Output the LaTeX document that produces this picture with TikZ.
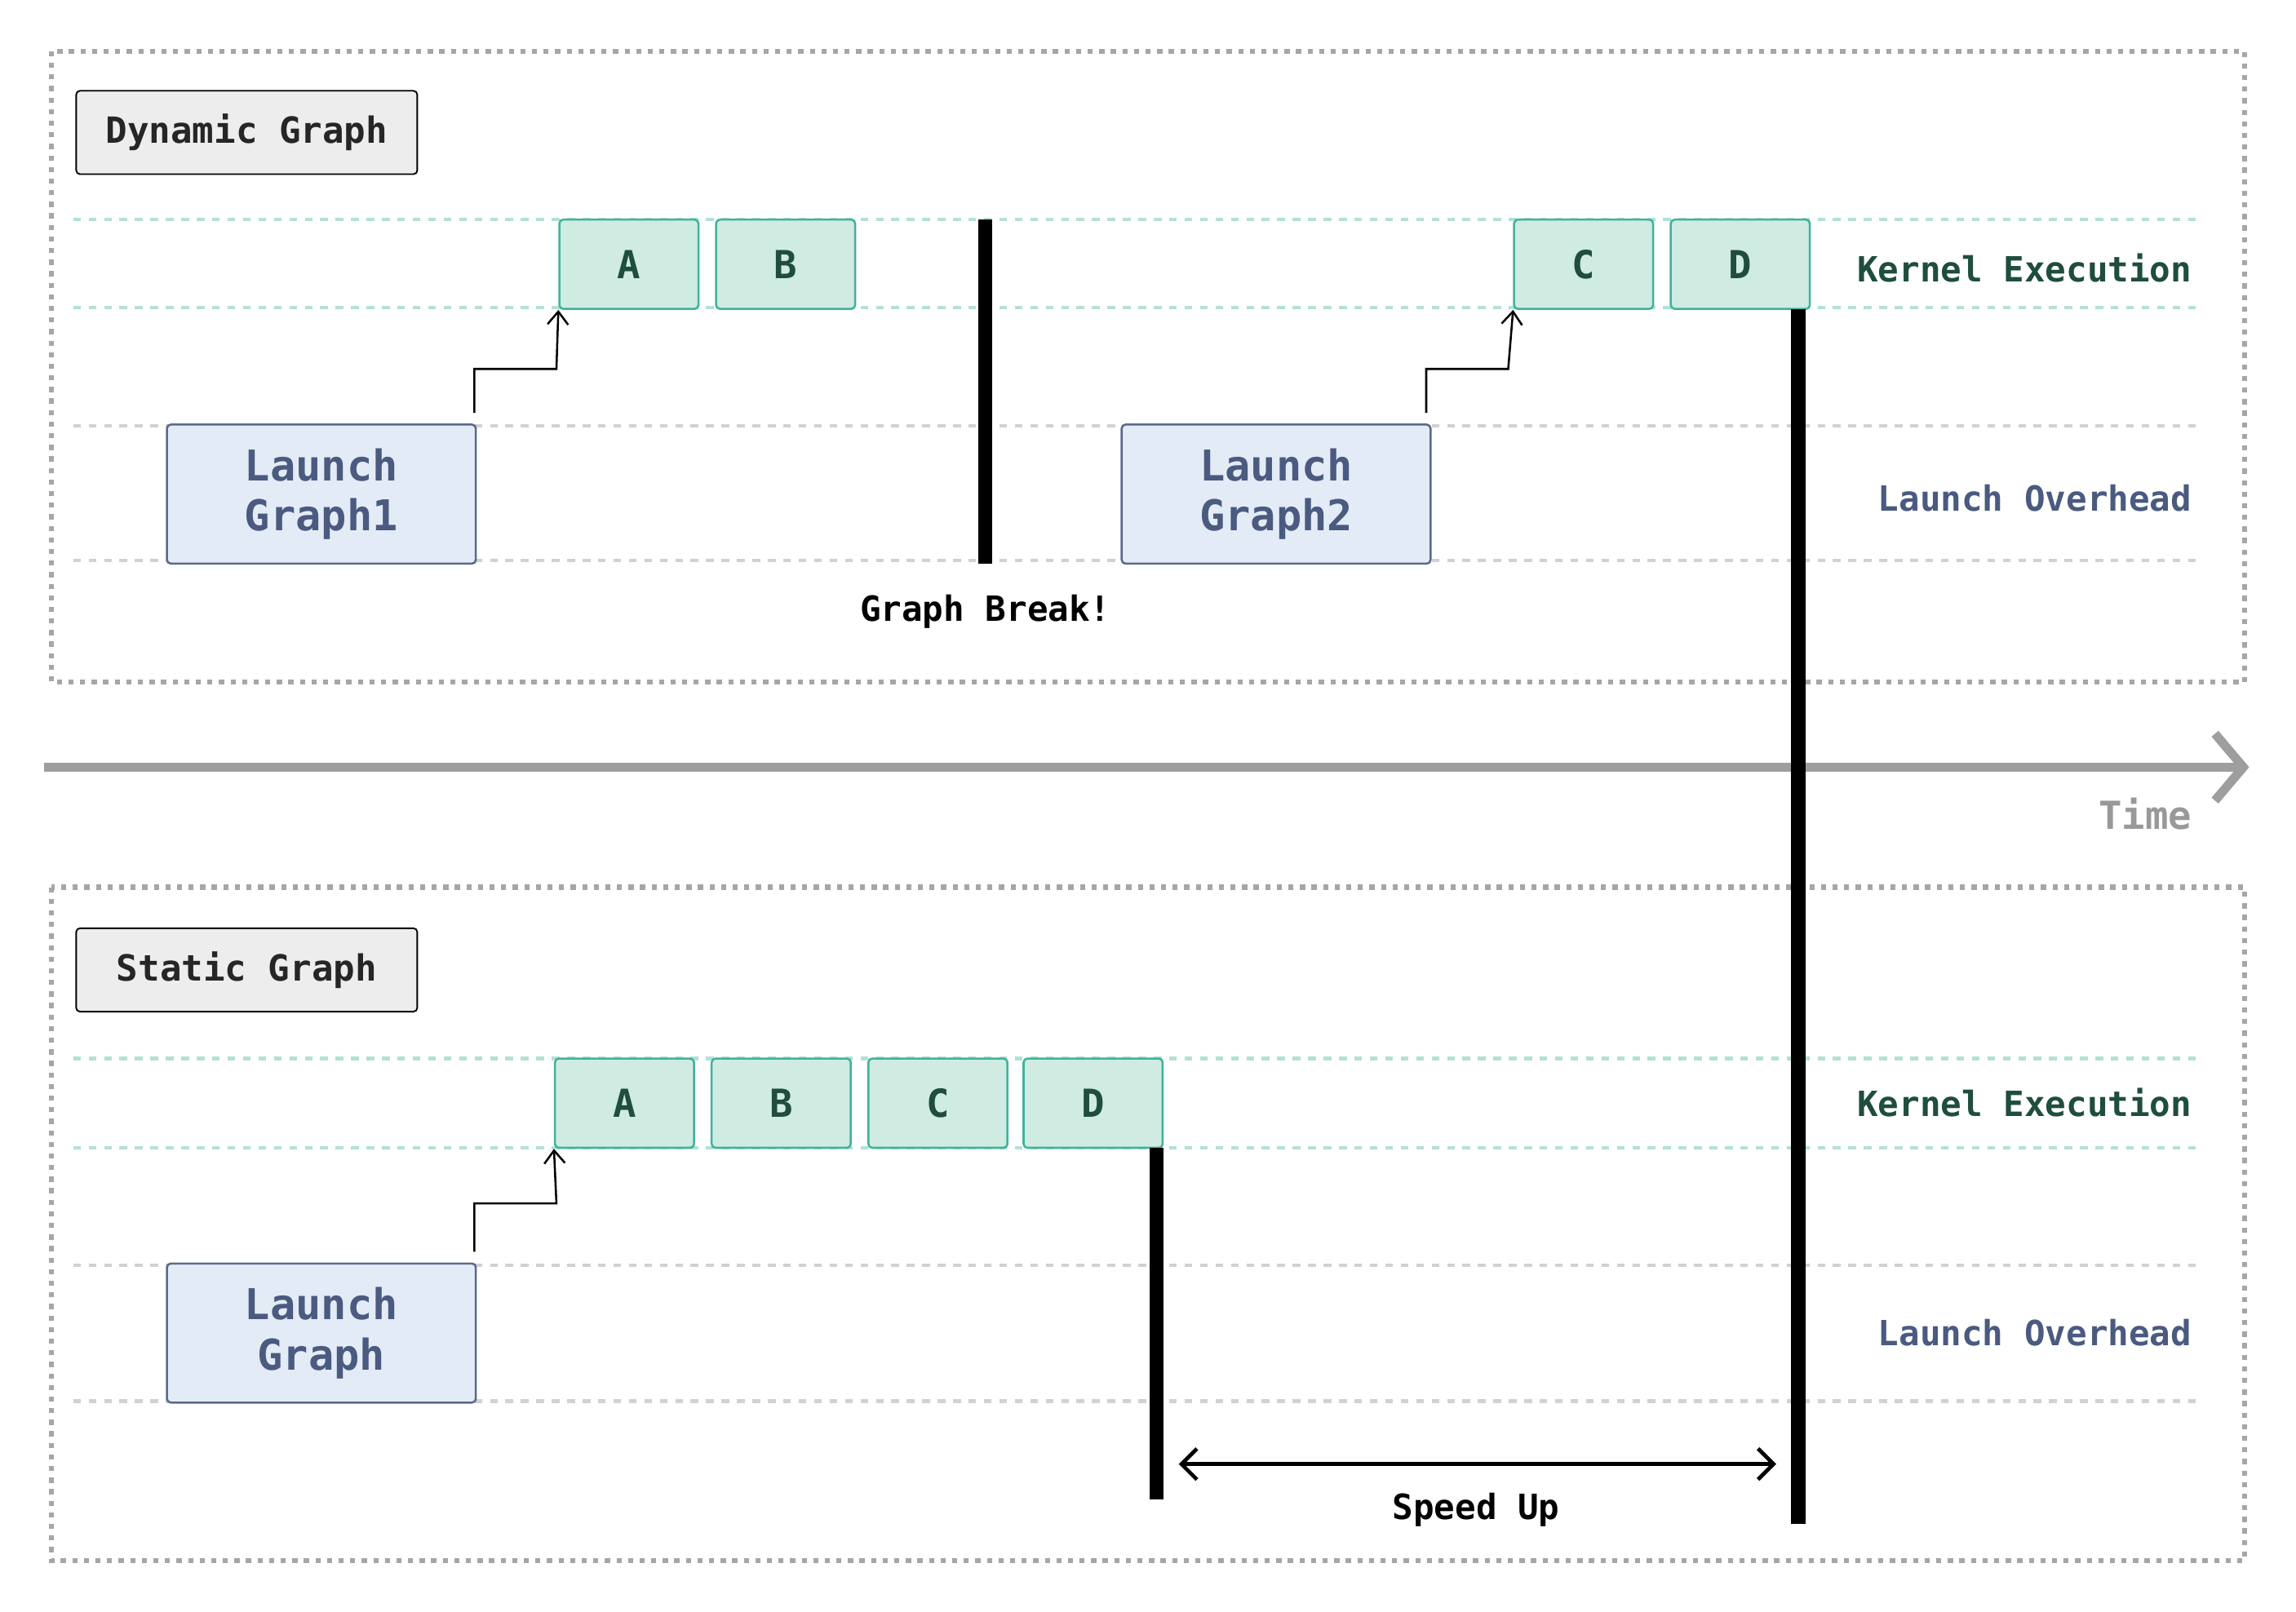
\documentclass[tikz,border=0pt]{standalone}
\usepackage{fontspec}
\setmainfont{DejaVu Sans Mono}
\usetikzlibrary{arrows.meta}
\definecolor{kfill}{HTML}{D0EBE2}\definecolor{kdraw}{HTML}{3FB39A}\definecolor{ktext}{HTML}{1F4D3F}
\definecolor{lfill}{HTML}{E3ECF6}\definecolor{ldraw}{HTML}{5A6A8A}\definecolor{ltext}{HTML}{4A5A80}
\begin{document}
\begin{tikzpicture}[x=0.02cm,y=-0.02cm,
 font=\bfseries\fontsize{13.5}{15}\selectfont,
 outer/.style={draw=black!35,line width=2pt,dash pattern=on 2pt off 2.5pt},
 title/.style={draw=black,fill=black!7,rounded corners=1.5pt,line width=0.6pt,minimum width=4.66cm,minimum height=1.14cm,font=\bfseries\fontsize{14}{16}\selectfont,text=black!85},
 kern/.style={draw=kdraw,fill=kfill,rounded corners=1.5pt,line width=0.8pt,minimum width=1.9cm,minimum height=1.22cm,text=ktext,font=\bfseries\fontsize{15}{17}\selectfont},
 launch/.style={draw=ldraw,fill=lfill,rounded corners=1.5pt,line width=0.8pt,minimum width=4.22cm,minimum height=1.9cm,text=ltext,align=center,font=\bfseries\fontsize{16.5}{19.5}\selectfont},
 kline/.style={draw=kdraw!40,line width=1.3pt,dash pattern=on 3pt off 3pt},
 lline/.style={draw=black!18,line width=1.3pt,dash pattern=on 3pt off 3pt},
 bar/.style={line width=5.5pt},
 launcharrow/.style={line width=0.8pt,-{Straight Barb[length=5pt,width=8pt]}},
 lab/.style={anchor=east,font=\bfseries\fontsize{13.5}{15}\selectfont}]
\useasboundingbox (0,0) rectangle (1568,1101);
% frames
\draw[outer] (35,35) rectangle (1533,466);
\draw[outer] (35,606) rectangle (1533,1066);
\node[title] (t1) at (168.5,90.5) {Dynamic Graph};
\node[title] (t2) at (168.5,662.5) {Static Graph};
% guide lines
\foreach \y in {150,210} \draw[kline] (50,\y) -- (1500,\y);
\foreach \y in {291,383} \draw[lline] (50,\y) -- (1500,\y);
\foreach \y in {723,784} \draw[kline] (50,\y) -- (1500,\y);
\foreach \y in {864,957} \draw[lline] (50,\y) -- (1500,\y);
% time axis
\coordinate (ts) at (30,524); \coordinate (te) at (1536,524);
\draw[black!38,line width=3.5pt,-{Straight Barb[length=11pt,width=26pt,line width=3.5pt]}] (ts) -- (te);
\node[anchor=east,text=black!40,font=\bfseries\fontsize{15}{17}\selectfont] (time) at (1503,556) {Time};
% top
\node[kern] (a1) at (429.5,180.5) {A};
\node[kern] (b1) at (536.5,180.5) {B};
\node[kern] (c1) at (1081.5,180.5) {C};
\node[kern] (d1) at (1188.5,180.5) {D};
\node[launch] (l1) at (219.5,337.5) {Launch\\Graph1};
\node[launch] (l2) at (871.5,337.5) {Launch\\Graph2};
\draw[launcharrow] (324,282) -- (324,252) -- (380,252) -- (a1.south west);
\draw[launcharrow] (974,282) -- (974,252) -- (1030,252) -- (c1.south west);
\coordinate (gb1) at (673,150); \coordinate (gb2) at (673,385);
\draw[bar] (gb1) -- (gb2);
\node (gbl) at (673,418) {Graph Break!};
\node[lab,text=ktext] (ke1) at (1503,183) {Kernel Execution};
\node[lab,text=ltext] (lo1) at (1503,340) {Launch Overhead};
% bottom
\node[kern] (a2) at (426.5,753.5) {A};
\node[kern] (b2) at (533.5,753.5) {B};
\node[kern] (c2) at (640.5,753.5) {C};
\node[kern] (d2) at (746.5,753.5) {D};
\node[launch] (l3) at (219.5,910.5) {Launch\\Graph};
\draw[launcharrow] (324,855) -- (324,822) -- (380,822) -- (a2.south west);
\node[lab,text=ktext] (ke2) at (1503,753) {Kernel Execution};
\node[lab,text=ltext] (lo2) at (1503,910) {Launch Overhead};
\coordinate (e1) at (790,784); \coordinate (e2) at (790,1024);
\draw[bar] (e1) -- (e2);
\coordinate (f1) at (1228,211); \coordinate (f2) at (1228,1041);
\draw[bar] (f1) -- (f2);
\coordinate (s1) at (805,1000); \coordinate (s2) at (1213,1000);
\draw[line width=1.5pt,{Straight Barb[length=6pt,width=12pt]}-{Straight Barb[length=6pt,width=12pt]}] (s1) -- (s2);
\node (sl) at (1008,1031) {Speed Up};
\end{tikzpicture}
\end{document}
